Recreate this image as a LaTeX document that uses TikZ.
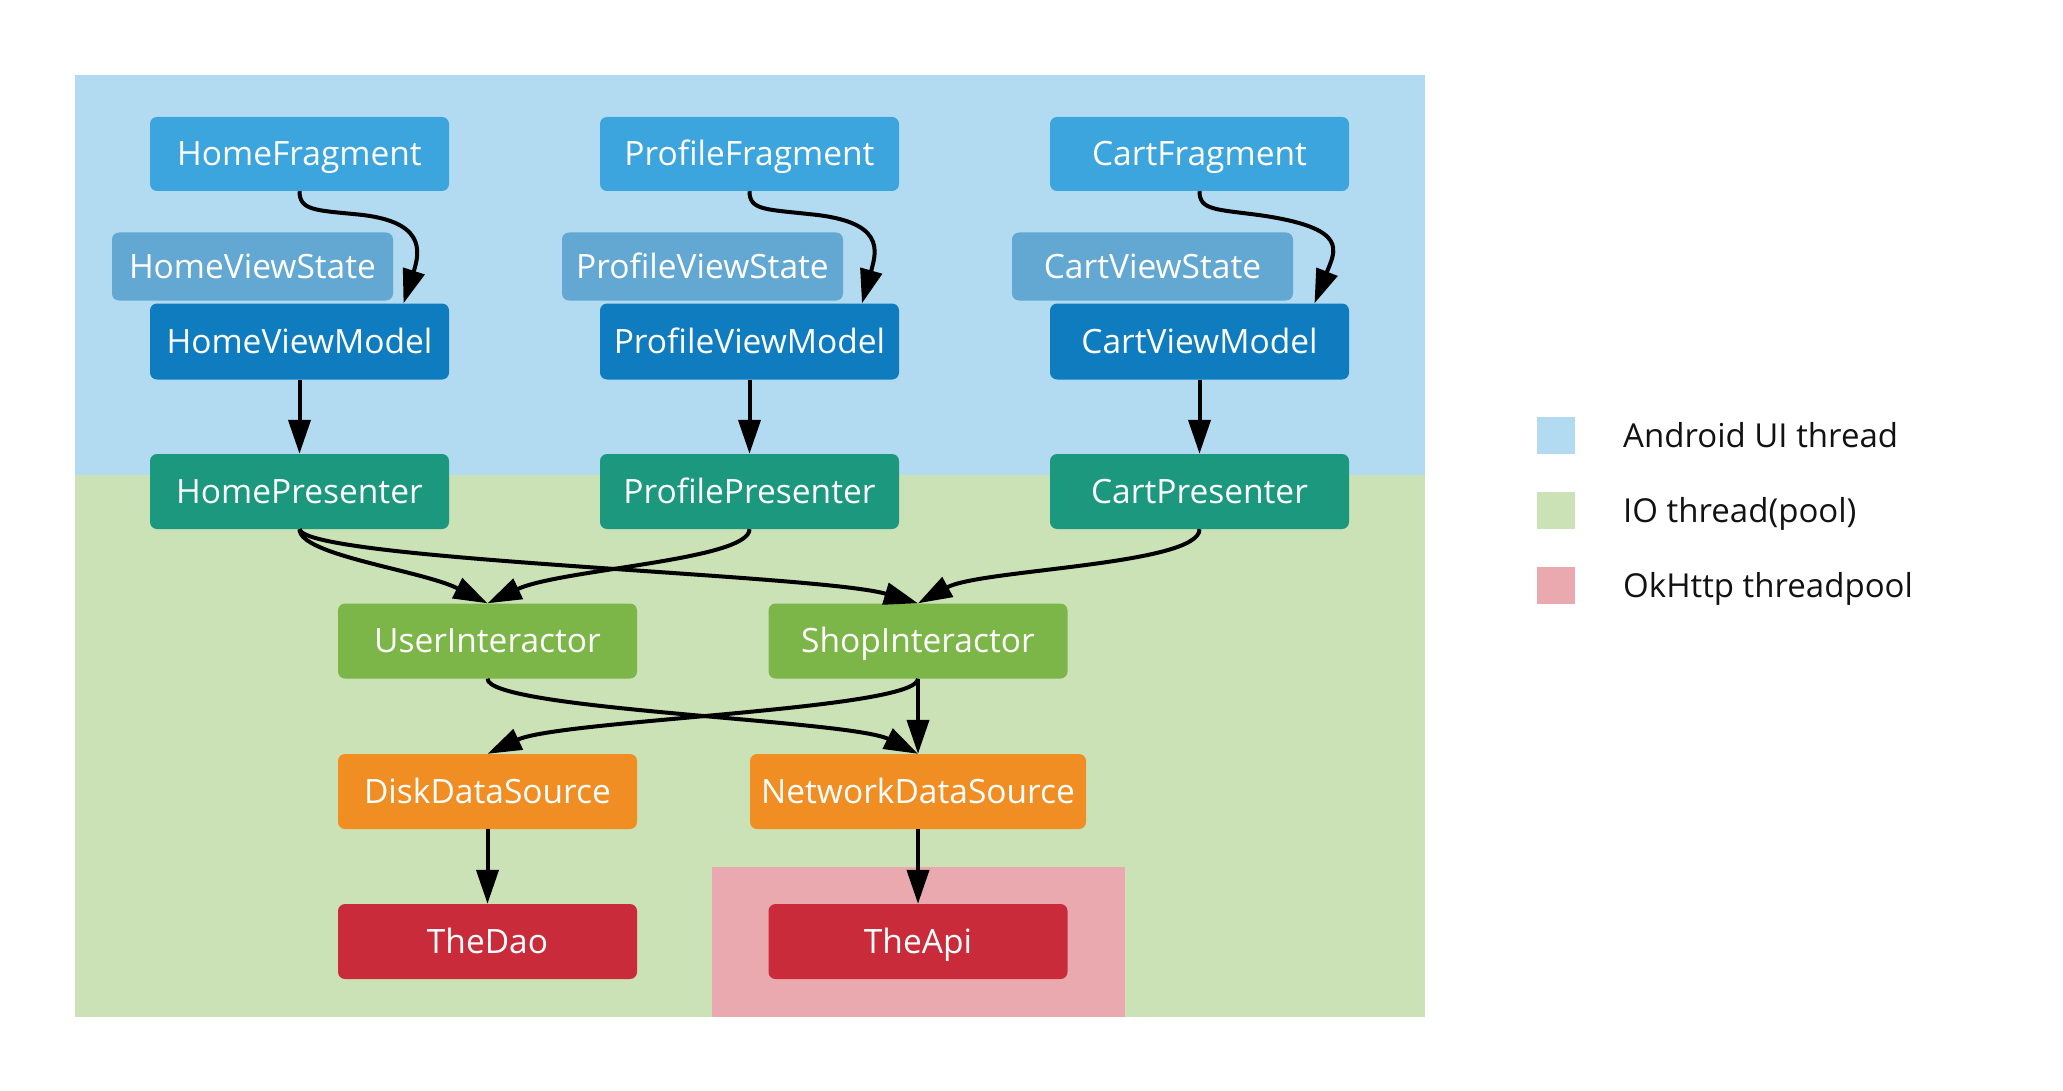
\documentclass[tikz,border=0pt]{standalone}
\usepackage{fontspec}
\setmainfont{Open Sans}
\usetikzlibrary{arrows.meta}
\definecolor{bgblue}{HTML}{B2DBF1}
\definecolor{bggreen}{HTML}{CBE2B6}
\definecolor{bgpink}{HTML}{EAA9AE}
\definecolor{cfrag}{HTML}{3CA5DD}
\definecolor{cstate}{HTML}{62A8D2}
\definecolor{cvm}{HTML}{0E7CBE}
\definecolor{cpres}{HTML}{1B987E}
\definecolor{cinter}{HTML}{7CB648}
\definecolor{cdata}{HTML}{F08D23}
\definecolor{capi}{HTML}{C92B3A}
\tikzset{
  box/.style={rounded corners=7pt, minimum width=299pt, minimum height=75pt, inner sep=0pt,
    text=white, font=\fontsize{33.5}{40}\selectfont, text height=23.5pt, text depth=0pt},
  arr/.style={draw=black, line width=4pt, -{Triangle[length=34pt,width=22pt]}},
  legtext/.style={anchor=west, inner sep=0pt, text=black!93, font=\fontsize{33}{40}\selectfont, text height=23pt, text depth=0pt}
}
\begin{document}
\begin{tikzpicture}[x=1pt,y=-1pt]
\useasboundingbox (0,0) rectangle (2063,1091);
% backgrounds
\fill[bgblue] (75,75) rectangle (1425,475);
\fill[bggreen] (75,475) rectangle (1425,1017);
\fill[bgpink] (712,867) rectangle (1125,1017);
% columns
\node[box, fill=cfrag, minimum height=74pt] (HF) at (299.5,154) {HomeFragment};
\node[box, fill=cstate, minimum width=281pt, minimum height=68pt] (HVS) at (252.5,266.5) {HomeViewState};
\node[box, fill=cvm, minimum height=76pt] (HVM) at (299.5,341.5) {HomeViewModel};
\node[box, fill=cpres] (HP) at (299.5,491.5) {HomePresenter};

\node[box, fill=cfrag, minimum height=74pt] (PF) at (749.5,154) {ProfileFragment};
\node[box, fill=cstate, minimum width=281pt, minimum height=68pt] (PVS) at (702.5,266.5) {ProfileViewState};
\node[box, fill=cvm, minimum height=76pt] (PVM) at (749.5,341.5) {ProfileViewModel};
\node[box, fill=cpres] (PP) at (749.5,491.5) {ProfilePresenter};

\node[box, fill=cfrag, minimum height=74pt] (CF) at (1199.5,154) {CartFragment};
\node[box, fill=cstate, minimum width=281pt, minimum height=68pt] (CVS) at (1152.5,266.5) {CartViewState};
\node[box, fill=cvm, minimum height=76pt] (CVM) at (1199.5,341.5) {CartViewModel};
\node[box, fill=cpres] (CP) at (1199.5,491.5) {CartPresenter};

\node[box, fill=cinter] (UI) at (487.5,641) {UserInteractor};
\node[box, fill=cinter] (SI) at (918,641) {ShopInteractor};
\node[box, fill=cdata] (DDS) at (487.5,791.5) {DiskDataSource};
\node[box, fill=cdata, minimum width=336pt] (NDS) at (918,791.5) {NetworkDataSource};
\node[box, fill=capi] (DAO) at (487.5,941.5) {TheDao};
\node[box, fill=capi] (API) at (918,941.5) {TheApi};

% fragment -> viewmodel
\draw[arr] (HF.south) .. controls +(0,19) and +(-40,-4) .. ([shift={(55.5,23)}]HF.south)
  .. controls +(70,6) and +(17,-53) .. ([xshift=104pt]HVM.north);
\draw[arr] (PF.south) .. controls +(0,19) and +(-45,-5) .. ([shift={(60.5,23)}]PF.south)
  .. controls +(75,7) and +(15,-53) .. ([xshift=112.5pt]PVM.north);
\draw[arr] (CF.south) .. controls +(0,19) and +(-45,-6) .. ([shift={(60.5,24)}]CF.south)
  .. controls +(90,13) and +(21,-53) .. ([xshift=115pt]CVM.north);
% viewmodel -> presenter
\draw[arr] (HVM.south) -- (HP.north);
\draw[arr] (PVM.south) -- (PP.north);
\draw[arr] (CVM.south) -- (CP.north);
% presenter -> interactor
\draw[arr] (HP.south) .. controls +(0,26) and +(-66,-33) .. (UI.north);
\draw[arr] (HP.south) .. controls +(5,31) and +(-98,-29) .. (SI.north);
\draw[arr] (PP.south) .. controls +(0,31) and +(72,-34) .. (UI.north);
\draw[arr] (CP.south) .. controls +(0,36) and +(62,-34) .. (SI.north);
% interactor -> data source
\draw[arr] (UI.south) .. controls +(0,31) and +(-68,-34) .. (NDS.north);
\draw[arr] (SI.south) .. controls +(0,31) and +(72.5,-34) .. (DDS.north);
\draw[arr] (SI.south) -- (NDS.north);
% data source -> api
\draw[arr] (DDS.south) -- (DAO.north);
\draw[arr] (NDS.south) -- (API.north);
% legend
\fill[bgblue] (1537,417) rectangle (1575,454);
\fill[bggreen] (1537,492) rectangle (1575,529);
\fill[bgpink] (1537,567) rectangle (1575,604);
\node[legtext] (L1) at (1623,435.5) {Android UI thread};
\node[legtext] (L2) at (1623,510.5) {IO thread(pool)};
\node[legtext] (L3) at (1623,585.5) {OkHttp threadpool};
\end{tikzpicture}
\end{document}
